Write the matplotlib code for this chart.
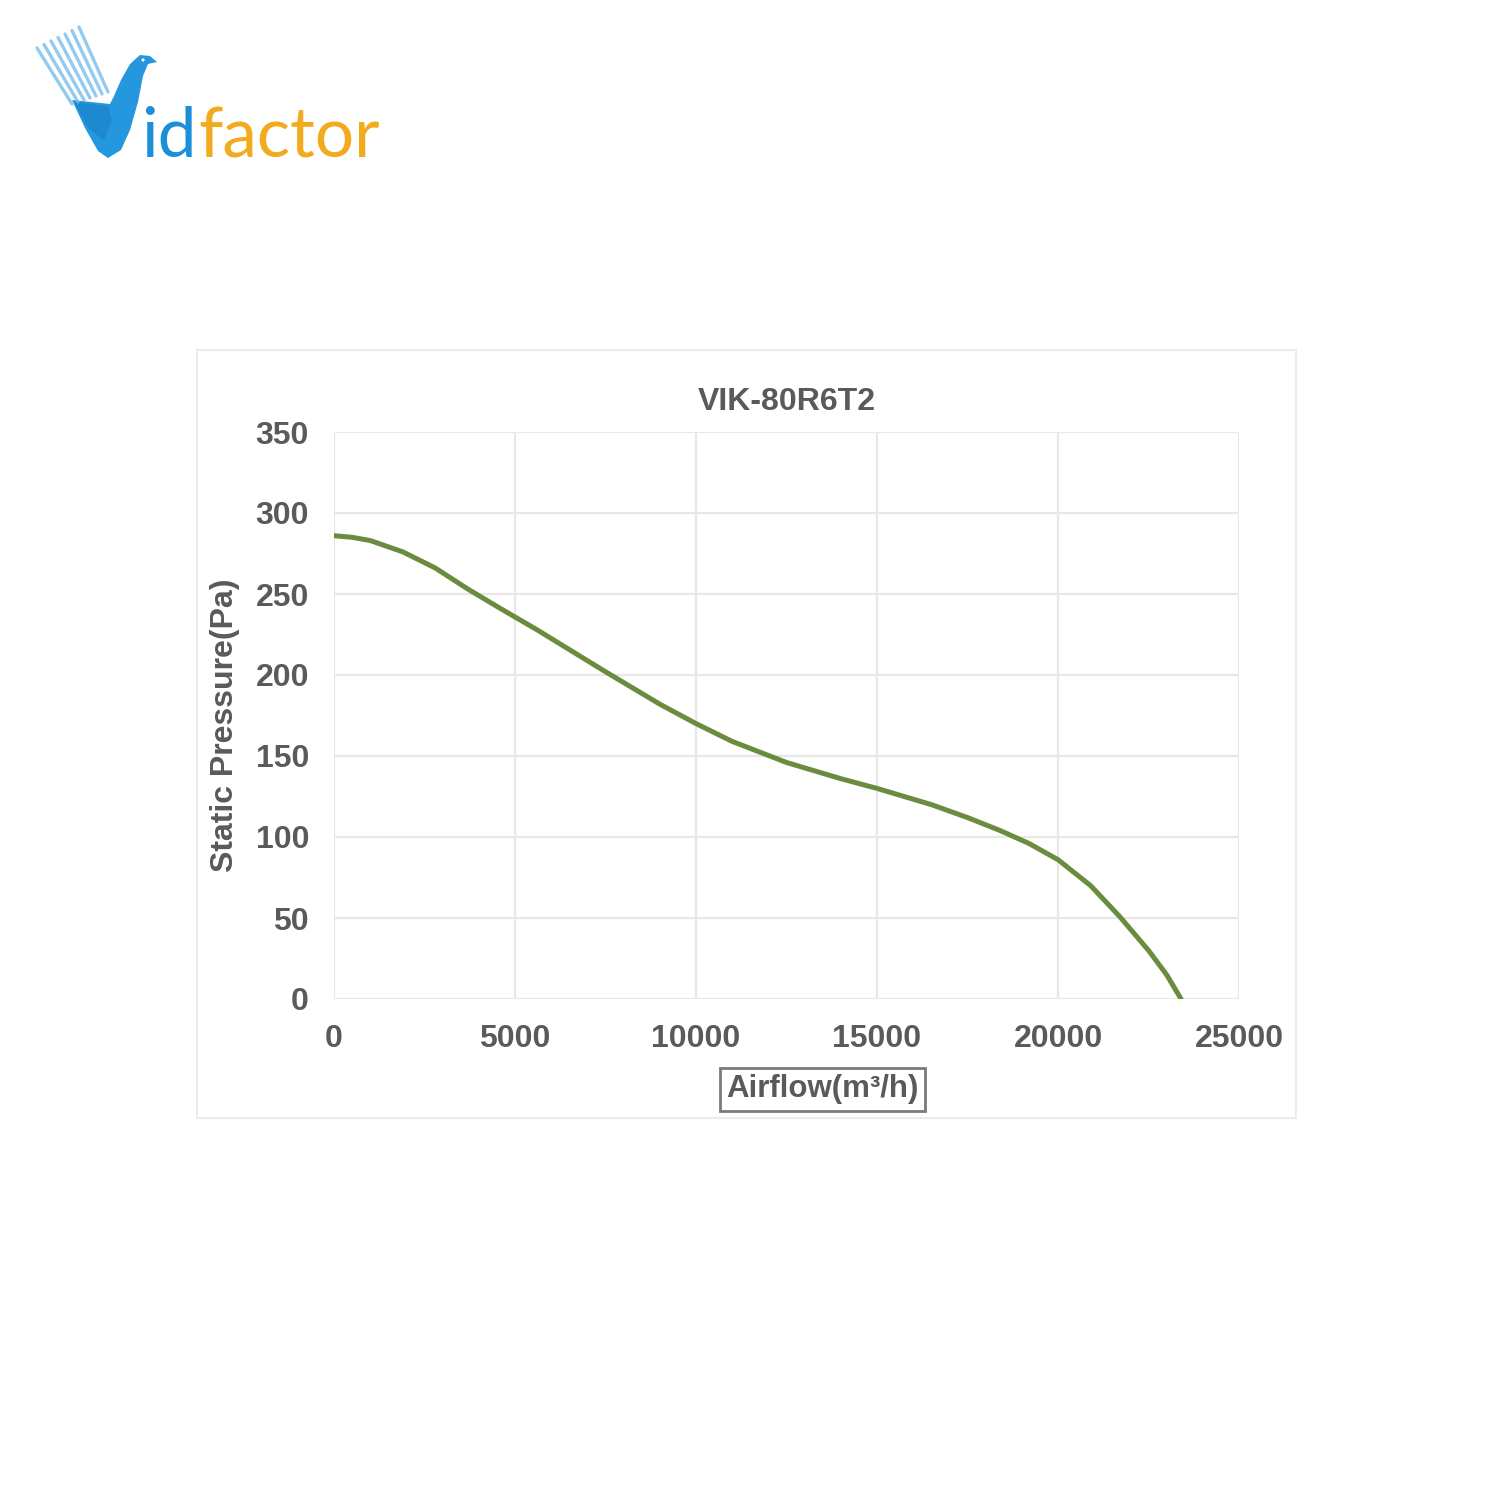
import matplotlib.pyplot as plt
from matplotlib.patches import Rectangle, Polygon, Circle

# fan curve
airflow = [0, 500, 1000, 1900, 2800, 3700, 4600, 5600, 7500, 9000, 10000, 11000, 12500,
           14000, 15000, 16500, 17500, 18400, 19200, 20000, 20900, 21700, 22500, 23000, 23400]
pressure = [286, 285, 283, 276, 266, 253, 241, 228, 202, 182, 170, 159, 146,
            136, 130, 120, 112, 104, 96, 86, 70, 51, 30, 15, 0]

xticks = [0, 5000, 10000, 15000, 20000, 25000]
yticks = [0, 50, 100, 150, 200, 250, 300, 350]

title = "VIK-80R6T2"
xlabel = "Airflow(m³/h)"
ylabel = "Static Pressure(Pa)"

plt.rcParams['font.family'] = ['Liberation Sans', 'DejaVu Sans']
grey = '#5a5a5a'
W = H = 1500.0


def px(x, y):
    # pixel (from top-left) to figure fraction
    return (x / W, 1 - y / H)


fig = plt.figure(figsize=(15, 15), dpi=100)
fig.patch.set_facecolor('white')

# faint frame round the chart
fig.patches.append(Rectangle((0.131, 0.255), 0.733, 0.512, transform=fig.transFigure,
                             fill=False, edgecolor='#ececec', linewidth=1.5))

ax = fig.add_axes([0.2227, 0.334, 0.6033, 0.378])
ax.plot(airflow, pressure, color='#6b8c3e', linewidth=3.6,
        solid_capstyle='round', solid_joinstyle='round')

ax.set_xlim(0, 25000)
ax.set_ylim(0, 350)
ax.set_xticks(xticks)
ax.set_yticks(yticks)
ax.grid(True, color='#e8e8e8', linewidth=1.6)
ax.set_axisbelow(True)
for s in ax.spines.values():
    s.set_visible(False)
ax.tick_params(length=0, labelsize=23, labelcolor=grey, pad=18)
for lab in ax.get_xticklabels() + ax.get_yticklabels():
    lab.set_fontweight('bold')

ax.set_title(title, fontsize=23, fontweight='bold', color=grey, pad=16)
ax.set_ylabel(ylabel, fontsize=23, fontweight='bold', color=grey)
ax.yaxis.set_label_coords(-0.104, 0.483)
ax.set_xlabel(xlabel, fontsize=22.5, fontweight='bold', color=grey,
              bbox=dict(boxstyle='square,pad=0.2', facecolor='white',
                        edgecolor='#7a7a7a', linewidth=2))
ax.xaxis.set_label_coords(0.540, -0.133)

# logo: feathers + bird V
for i in range(7):
    x0, y0 = px(37 + 7 * i, 48 - 3.5 * i)
    x1, y1 = px(72 + 6 * i, 104 - 2 * i)
    fig.add_artist(plt.Line2D([x0, x1], [y0, y1], transform=fig.transFigure,
                              color='#6fb9ec', linewidth=2.4, alpha=0.75,
                              solid_capstyle='round'))
bird = [(72, 100), (110, 104), (114, 96), (121, 80), (130, 64), (140, 55), (150, 56),
        (157, 62), (148, 64), (143, 76), (138, 102), (130, 130), (121, 150),
        (108, 158), (98, 151), (85, 128)]
fig.patches.append(Polygon([px(*p) for p in bird], closed=True, transform=fig.transFigure,
                           facecolor='#2597de', edgecolor='none'))
fig.patches.append(Polygon([px(*p) for p in [(74, 102), (108, 106), (112, 120), (104, 140), (88, 128)]],
                           closed=True, transform=fig.transFigure,
                           facecolor='#1678c2', edgecolor='none', alpha=0.45))
ex, ey = px(143, 60)
fig.patches.append(Circle((ex, ey), 1.6 / W, transform=fig.transFigure,
                          facecolor='white', edgecolor='none'))

bx, by = px(141, 157)
t_id = fig.text(bx, by, "id", fontsize=50, color='#1b8fd8', family='Lato', va='baseline')
fig.canvas.draw()
ext = t_id.get_window_extent()
t_f = fig.text(ext.x1 / W + 0.001, by, "factor", fontsize=50, color='#f2aa1f',
               family='Lato', va='baseline')

fig.savefig('out.png', dpi=100, facecolor='white')
